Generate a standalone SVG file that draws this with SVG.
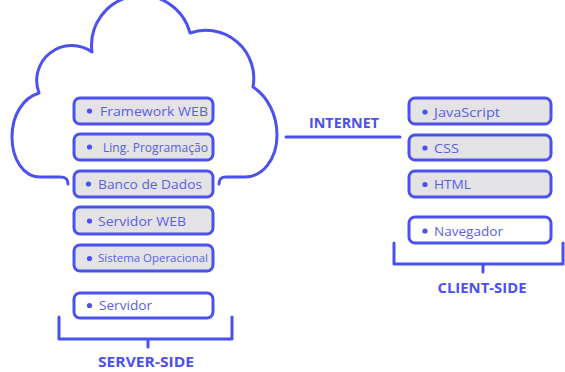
<svg xmlns="http://www.w3.org/2000/svg" width="565" height="372" viewBox="0 0 565 372">
  <style>
    .ln { fill: none; stroke: #4b50ee; stroke-width: 3; stroke-linecap: round; stroke-linejoin: round; }
    .box { fill: #e3e3e5; stroke: #4b50ee; stroke-width: 3; }
    .box.top { fill: #ffffff; }
    .dot { fill: #4b50ee; }
    .lbl { font-family: "Open Sans", "Liberation Sans", sans-serif; font-size: 13.5px; font-weight: 500; fill: #5a5ee6; }
    .hd { font-family: "Open Sans", "Liberation Sans", sans-serif; font-size: 14.5px; font-weight: 700; fill: #4b50ee; }
  </style>
  <rect width="565" height="372" fill="#ffffff"/>

  <g id="connectors">
    <!-- cloud around the server stack -->
    <path class="ln" d="M 68,184 C 68,179 66,177 60,177 L 40,177 C 24,177 12,160 12,137 C 12,115 23,98 39,93 A 35 35 0 0 1 92,52 A 50 50 0 0 1 190,33 A 48 48 0 0 1 253,87 C 268,97 277,115 277,135 C 277,160 262,177 245,177 L 226,177 C 221,177 219,179 219,184"/>
    <!-- internet link -->
    <line class="ln" x1="286" y1="137" x2="400" y2="137"/>
    <!-- server-side bracket -->
    <path class="ln" d="M 59,317 L 59,339 L 232,339 L 232,317 M 148,339 L 148,347"/>
    <!-- client-side bracket -->
    <path class="ln" d="M 394,243 L 394,264 L 563,264 L 563,243 M 483,264 L 483,272"/>
  </g>

  <g id="framework-web">
    <rect class="box" x="74" y="98" width="139" height="26" rx="6"/>
    <circle class="dot" cx="89.5" cy="111" r="2.6"/>
    <text class="lbl" x="100" y="115.5" textLength="108" lengthAdjust="spacingAndGlyphs">Framework WEB</text>
  </g>
  <g id="ling-programacao">
    <rect class="box" x="74" y="134" width="139" height="26" rx="6"/>
    <circle class="dot" cx="89.5" cy="147" r="2.6"/>
    <text class="lbl" x="103" y="151.5" style="font-size:12px" textLength="105" lengthAdjust="spacingAndGlyphs">Ling. Programação</text>
  </g>
  <g id="banco-de-dados">
    <rect class="box" x="74" y="171" width="139" height="26" rx="6"/>
    <circle class="dot" cx="88.5" cy="184" r="2.6"/>
    <text class="lbl" x="98" y="188.5" textLength="104" lengthAdjust="spacingAndGlyphs">Banco de Dados</text>
  </g>
  <g id="servidor-web">
    <rect class="box" x="74" y="207" width="139" height="27" rx="6"/>
    <circle class="dot" cx="89.5" cy="221" r="2.6"/>
    <text class="lbl" x="98" y="225.5" textLength="88" lengthAdjust="spacingAndGlyphs">Servidor WEB</text>
  </g>
  <g id="sistema-operacional">
    <rect class="box" x="74" y="245" width="139" height="26" rx="6"/>
    <circle class="dot" cx="89.5" cy="258.5" r="2.6"/>
    <text class="lbl" x="98" y="262" style="font-size:11px" textLength="110" lengthAdjust="spacingAndGlyphs">Sistema Operacional</text>
  </g>
  <g id="servidor">
    <rect class="box top" x="74" y="293" width="139" height="25" rx="6"/>
    <circle class="dot" cx="89.5" cy="305.5" r="2.6"/>
    <text class="lbl" x="99" y="310" textLength="53" lengthAdjust="spacingAndGlyphs">Servidor</text>
  </g>

  <g id="javascript">
    <rect class="box" x="409" y="98" width="142" height="26" rx="6"/>
    <circle class="dot" cx="425" cy="112" r="2.6"/>
    <text class="lbl" x="434" y="116.5" textLength="66" lengthAdjust="spacingAndGlyphs">JavaScript</text>
  </g>
  <g id="css">
    <rect class="box" x="409" y="135" width="142" height="25" rx="6"/>
    <circle class="dot" cx="425" cy="148" r="2.6"/>
    <text class="lbl" x="434" y="152.5" textLength="25" lengthAdjust="spacingAndGlyphs">CSS</text>
  </g>
  <g id="html">
    <rect class="box" x="409" y="171" width="142" height="26" rx="6"/>
    <circle class="dot" cx="425" cy="184.5" r="2.6"/>
    <text class="lbl" x="434" y="188.5" textLength="37" lengthAdjust="spacingAndGlyphs">HTML</text>
  </g>
  <g id="navegador">
    <rect class="box top" x="409" y="217" width="142" height="26" rx="6"/>
    <circle class="dot" cx="425" cy="231" r="2.6"/>
    <text class="lbl" x="434" y="235.5" textLength="69" lengthAdjust="spacingAndGlyphs">Navegador</text>
  </g>

  <g id="labels">
    <text class="hd" x="344" y="128" text-anchor="middle" textLength="70" lengthAdjust="spacingAndGlyphs">INTERNET</text>
    <text class="hd" x="146" y="367" text-anchor="middle" textLength="96" lengthAdjust="spacingAndGlyphs">SERVER-SIDE</text>
    <text class="hd" x="482" y="293" text-anchor="middle" textLength="89" lengthAdjust="spacingAndGlyphs">CLIENT-SIDE</text>
  </g>
</svg>
